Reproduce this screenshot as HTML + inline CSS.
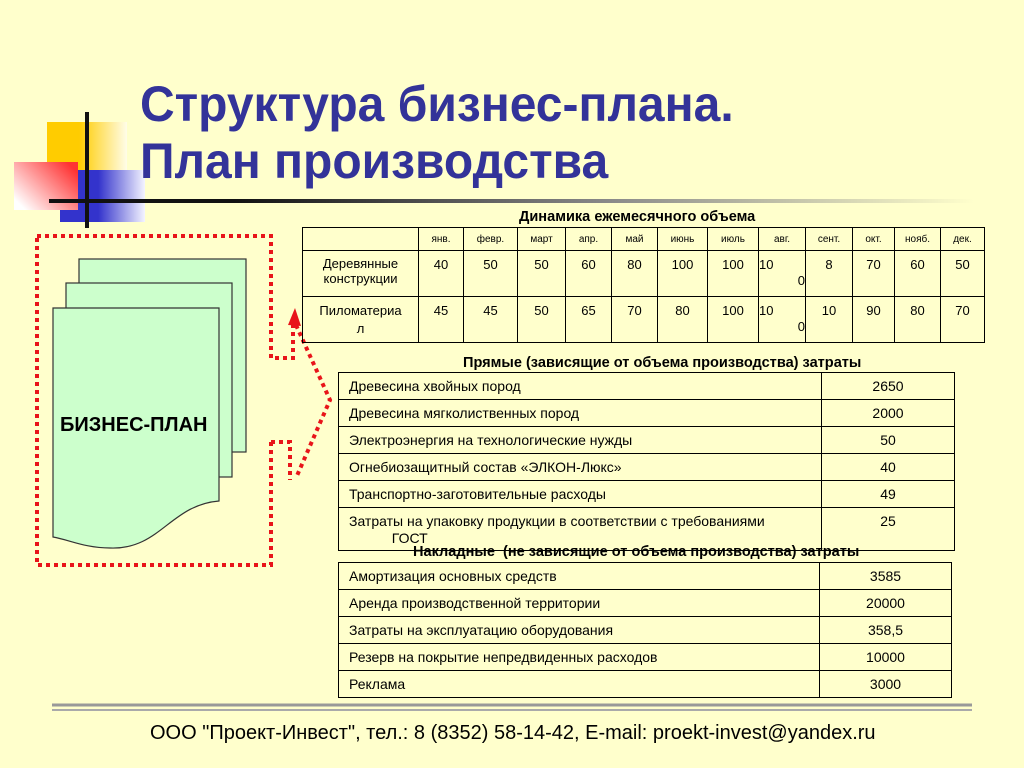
<!DOCTYPE html>
<html><head><meta charset="utf-8"><style>
body{margin:0;width:1024px;height:768px;background:#ffffcc;position:relative;overflow:hidden;font-family:"Liberation Sans",sans-serif}
.a{position:absolute}
.t{position:absolute;border-collapse:collapse;font-size:13px;color:#000}
.t td{border:1.5px solid #000;padding:0;vertical-align:top}
.w td{font-size:14px}
</style></head><body>
<div class="a" style="left:47px;top:122px;width:80px;height:70px;background:linear-gradient(90deg,#ffcc00 40%,#fffde8)"></div>
<div class="a" style="left:60px;top:170px;width:85px;height:52px;background:linear-gradient(90deg,#3333cc 45%,#f4f4ff)"></div>
<div class="a" style="left:14px;top:162px;width:64px;height:48px;background:linear-gradient(45deg,#fff 10%,#ff3333 90%)"></div>
<div class="a" style="left:85px;top:112px;width:4px;height:116px;background:#111"></div>
<div class="a" style="left:49px;top:199px;width:925px;height:4px;background:linear-gradient(90deg,#111 20%,#888 60%,#ffffcc)"></div>
<div class="a" style="left:140px;top:76px;font-size:50px;font-weight:bold;color:#333399;line-height:57px;transform:scaleX(0.96);transform-origin:0 0;white-space:nowrap">Структура бизнес-плана.<br>План производства</div>

<svg class="a" style="left:0;top:0" width="1024" height="768">
<g stroke="#e8141a" stroke-width="4" stroke-dasharray="4,4" fill="none">
<path d="M37 236 H271 V358 H293 V320"/>
<path d="M271 442 H290 V480"/>
<path d="M271 442 V565 H37 V236"/>
<path d="M296 325 L330 400 L296 478"/>
</g>
<path d="M288 325 L295 308 L301 326Z" fill="#e8141a"/>
<g stroke="#333" stroke-width="1.2" fill="#ccffcc">
<rect x="79" y="259" width="167" height="193"/>
<rect x="66" y="283" width="166" height="194"/>
<path d="M53 308 H219 V501 C170 505 160 550 110 548 C85 548 70 540 53 537 Z"/>
</g>
<text x="60" y="431" font-family="Liberation Sans" font-weight="bold" font-size="20" fill="#000">БИЗНЕС-ПЛАН</text>
<line x1="52" y1="705" x2="972" y2="705" stroke="#999" stroke-width="3"/>
<line x1="52" y1="710" x2="972" y2="710" stroke="#aaa" stroke-width="2"/>
</svg>

<div class="a" style="left:519px;top:208px;font-size:15px;font-weight:bold;transform:scaleX(0.97);transform-origin:0 0;white-space:nowrap">Динамика ежемесячного объема</div>
<table class="t" style="left:302px;top:227px;width:683px">
<tr style="height:23px;font-size:10px;text-align:center"><td style="width:115px"></td><td style="width:44px;vertical-align:middle">янв.</td><td style="width:53px;vertical-align:middle">февр.</td><td style="width:47px;vertical-align:middle">март</td><td style="width:45px;vertical-align:middle">апр.</td><td style="width:45px;vertical-align:middle">май</td><td style="width:49px;vertical-align:middle">июнь</td><td style="width:50px;vertical-align:middle">июль</td><td style="width:46px;vertical-align:middle">авг.</td><td style="width:46px;vertical-align:middle">сент.</td><td style="width:41px;vertical-align:middle">окт.</td><td style="width:45px;vertical-align:middle">нояб.</td><td style="vertical-align:middle">дек.</td></tr>
<tr style="height:46px;text-align:center"><td style="padding:5px 4px 0">Деревянные конструкции</td><td style="padding-top:6px">40</td><td style="padding-top:6px">50</td><td style="padding-top:6px">50</td><td style="padding-top:6px">60</td><td style="padding-top:6px">80</td><td style="padding-top:6px">100</td><td style="padding-top:6px">100</td><td style="text-align:left;padding-top:6px;line-height:16px">10<br><span style="float:right">0</span></td><td style="padding-top:6px">8</td><td style="padding-top:6px">70</td><td style="padding-top:6px">60</td><td style="padding-top:6px">50</td></tr>
<tr style="height:46px;text-align:center"><td style="padding:5px 4px 0;line-height:18px">Пиломатериа<br>л</td><td style="padding-top:6px">45</td><td style="padding-top:6px">45</td><td style="padding-top:6px">50</td><td style="padding-top:6px">65</td><td style="padding-top:6px">70</td><td style="padding-top:6px">80</td><td style="padding-top:6px">100</td><td style="text-align:left;padding-top:6px;line-height:16px">10<br><span style="float:right">0</span></td><td style="padding-top:6px">10</td><td style="padding-top:6px">90</td><td style="padding-top:6px">80</td><td style="padding-top:6px">70</td></tr>
</table>

<div class="a" style="left:463px;top:354px;font-size:15px;font-weight:bold;transform:scaleX(0.97);transform-origin:0 0;white-space:nowrap">Прямые (зависящие от объема производства) затраты</div>
<table class="t w" style="left:338px;top:372px;width:617px">
<tr style="height:27px"><td style="width:462px;padding:5px 10px 0">Древесина хвойных пород</td><td style="text-align:center;padding-top:5px">2650</td></tr>
<tr style="height:27px"><td style="padding:5px 10px 0">Древесина мягколиственных пород</td><td style="text-align:center;padding-top:5px">2000</td></tr>
<tr style="height:27px"><td style="padding:5px 10px 0">Электроэнергия на технологические нужды</td><td style="text-align:center;padding-top:5px">50</td></tr>
<tr style="height:27px"><td style="padding:5px 10px 0">Огнебиозащитный состав «ЭЛКОН-Люкс»</td><td style="text-align:center;padding-top:5px">40</td></tr>
<tr style="height:27px"><td style="padding:5px 10px 0">Транспортно-заготовительные расходы</td><td style="text-align:center;padding-top:5px">49</td></tr>
<tr style="height:43px"><td style="padding:5px 10px 0;line-height:17px">Затраты на упаковку продукции в соответствии с требованиями<br>&nbsp;&nbsp;&nbsp;&nbsp;&nbsp;&nbsp;&nbsp;&nbsp;&nbsp;&nbsp;&nbsp;ГОСТ</td><td style="text-align:center;padding-top:5px">25</td></tr>
</table>
<div class="a" style="left:413px;top:543px;font-size:15px;font-weight:bold;transform:scaleX(0.97);transform-origin:0 0;white-space:nowrap">Накладные&nbsp; (не зависящие от объема производства) затраты</div>
<table class="t w" style="left:338px;top:562px;width:614px">
<tr style="height:27px"><td style="width:460px;padding:5px 10px 0">Амортизация основных средств</td><td style="text-align:center;padding-top:5px">3585</td></tr>
<tr style="height:27px"><td style="padding:5px 10px 0">Аренда производственной территории</td><td style="text-align:center;padding-top:5px">20000</td></tr>
<tr style="height:27px"><td style="padding:5px 10px 0">Затраты на эксплуатацию оборудования</td><td style="text-align:center;padding-top:5px">358,5</td></tr>
<tr style="height:27px"><td style="padding:5px 10px 0">Резерв на покрытие непредвиденных расходов</td><td style="text-align:center;padding-top:5px">10000</td></tr>
<tr style="height:27px"><td style="padding:5px 10px 0">Реклама</td><td style="text-align:center;padding-top:5px">3000</td></tr>
</table>
<div class="a" style="left:150px;top:722px;font-size:20px;color:#000;white-space:nowrap">ООО "Проект-Инвест", тел.: 8 (8352) 58-14-42, E-mail: proekt-invest@yandex.ru</div>
</body></html>
